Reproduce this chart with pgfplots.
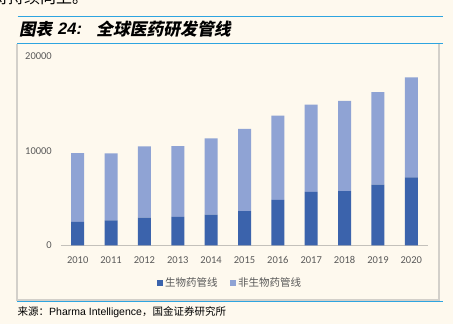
\documentclass[border=0pt]{standalone}
\usepackage{fontspec}
\usepackage{pgfplots}
\pgfplotsset{compat=1.18}
\setmainfont{Carlito}
\newfontfamily\cjk{Noto Sans CJK SC}
\newfontfamily\cjkt{Noto Sans CJK SC}[FakeSlant=0.2]
\newfontfamily\arial{Liberation Sans}
\definecolor{bg}{HTML}{FEF9EE}
\definecolor{lineblue}{HTML}{2EA5E0}
\definecolor{boxgray}{HTML}{D3D0CA}
\definecolor{axisgray}{HTML}{C4C1BB}
\definecolor{ticktext}{HTML}{595959}
\definecolor{biodark}{HTML}{3B63AC}
\definecolor{nonbio}{HTML}{8FA3D4}
\begin{document}
\begin{tikzpicture}[x=1pt,y=1pt]
\useasboundingbox (0,0) rectangle (453,324);
\fill[bg] (0,0) rectangle (453,324);
% cut-off text at top
\node[anchor=base west, inner sep=0, font=\cjk\fontsize{16}{16}\selectfont] at (-8,320) {将持续向上。};
% frame lines
\draw[lineblue, line width=1pt] (17.5,307.3) -- (442.7,307.3);
\draw[boxgray, line width=1.4pt] (17,280) -- (17,24) -- (439,24) -- (439,280);
\draw[lineblue, line width=1pt] (17,280) -- (443,280);
\draw[lineblue, line width=1pt] (17,22.3) -- (443,22.3);
% title
\node[anchor=west, inner sep=0, font=\cjkt\bfseries\fontsize{16.5}{17}\selectfont] at (19,295) {图表};
\node[anchor=west, inner sep=0, font=\arial\bfseries\itshape\fontsize{16.5}{17}\selectfont] at (58,295) {24:};
\node[anchor=west, inner sep=0, font=\cjkt\bfseries\fontsize{16.8}{17}\selectfont] at (96,295) {全球医药研发管线};
% source
\node[anchor=west, inner sep=0] at (17.5,12) {{\cjk\fontsize{10.5}{12}\selectfont 来源：}{\arial\fontsize{10.5}{12}\selectfont Pharma Intelligence}{\cjk\fontsize{10.5}{12}\selectfont ，国金证券研究所}};
\begin{axis}[
  at={(61pt,78.5pt)}, anchor=south west,
  scale only axis, width=367pt, height=189.5pt,
  ybar stacked, bar width=13pt,
  xmin=-0.5, xmax=10.5, ymin=0, ymax=20000,
  xtick={0,1,2,3,4,5,6,7,8,9,10},
  xticklabels={2010,2011,2012,2013,2014,2015,2016,2017,2018,2019,2020},
  ytick={0,10000,20000},
  scaled y ticks=false,
  /pgf/number format/1000 sep={},
  /pgf/number format/assume math mode=true,
  major tick length=0pt,
  axis x line*=bottom, axis y line*=left,
  x axis line style={draw=axisgray, line width=1.3pt},
  y axis line style={draw=none},
  tick label style={color=ticktext, font=\fontsize{10.5}{12}\selectfont},
  yticklabel style={anchor=east, inner sep=0pt, xshift=-9pt},
  xticklabel style={anchor=north, inner sep=0pt, yshift=-10.5pt},
  legend columns=2,
  legend style={at={(0.46,-0.198)}, anchor=center, draw=none, fill=none,
    font=\cjk\fontsize{10.5}{12}\selectfont, text=ticktext,
    /tikz/every even column/.append style={column sep=10pt},
    inner sep=0pt},
  legend image code/.code={\fill[#1] (0pt,-3.2pt) rectangle (6.5pt,3.2pt);},
  clip=false,
]
\addplot[fill=biodark, draw=none] coordinates {
(0,2487) (1,2663) (2,2945) (3,3016) (4,3262) (5,3616)
(6,4815) (7,5661) (8,5731) (9,6437) (10,7178)};
\addplot[fill=nonbio, draw=none] coordinates {
(0,7250) (1,7050) (2,7507) (3,7463) (4,8045) (5,8684)
(6,8903) (7,9211) (8,9536) (9,9744) (10,10559)};
\legend{生物药管线,非生物药管线}
\end{axis}
\end{tikzpicture}
\end{document}
